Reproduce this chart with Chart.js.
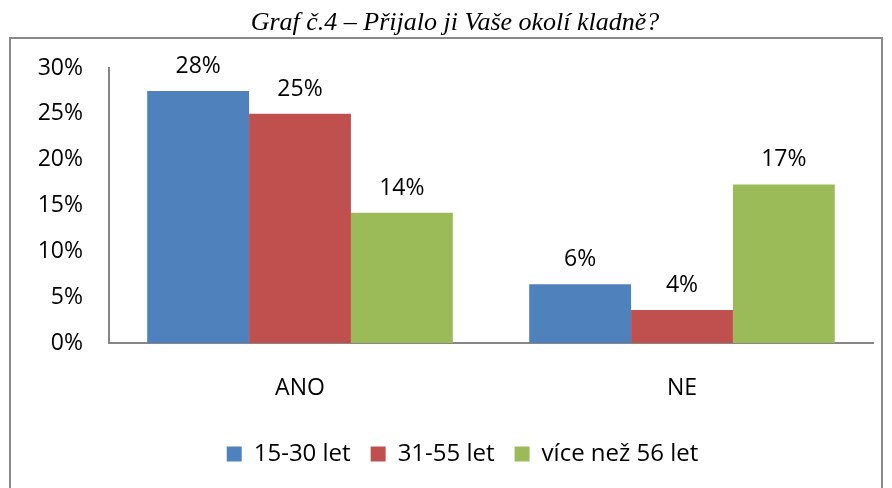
<!DOCTYPE html>
<html>
<head>
<meta charset="utf-8">
<script src="https://cdn.jsdelivr.net/npm/chart.js@4.4.0/dist/chart.umd.min.js"></script>
<style>
  html, body { margin: 0; padding: 0; background: #fff; }
  #wrap { width: 892px; height: 488px; }
</style>
</head>
<body>
<div id="wrap"><canvas id="myChart" width="892" height="488"></canvas></div>
<script>
// values (percent)
const titleText = 'Graf č.4 – Přijalo ji Vaše okolí kladně?';
const categories = ['ANO', 'NE'];
const seriesNames = ['15-30 let', '31-55 let', 'více než 56 let'];
const youngValues = [27.5, 6.4];
const middleValues = [25.0, 3.6];
const olderValues = [14.2, 17.3];
const seriesColors = ['#4F81BD', '#C0504D', '#9BBB59'];
const yMax = 30;
const yStep = 5;

const fontFamily = 'Open Sans';
const fontSize = 23;

// frame + title outside the plot
const framePlugin = {
  id: 'frame',
  beforeDraw(chart) {
    const { ctx } = chart;
    ctx.save();
    ctx.fillStyle = '#fff';
    ctx.fillRect(0, 0, chart.width, chart.height);
    ctx.strokeStyle = '#898989';
    ctx.lineWidth = 2;
    ctx.strokeRect(10, 38, 872, 470);
    ctx.fillStyle = '#000';
    ctx.font = 'italic 26px "Liberation Serif"';
    ctx.textAlign = 'center';
    ctx.textBaseline = 'alphabetic';
    ctx.fillText(titleText, 455, 30);
    ctx.restore();
  },
  // legend sits a bit right of the canvas centre in the reference
  afterLayout(chart) {
    chart.legend.left += 20;
    chart.legend.right += 20;
  },
};

// rounded value labels above the bars
const valueLabels = {
  id: 'valueLabels',
  afterDatasetsDraw(chart) {
    const { ctx } = chart;
    ctx.save();
    ctx.font = `${fontSize}px "${fontFamily}"`;
    ctx.fillStyle = '#000';
    ctx.textAlign = 'center';
    ctx.textBaseline = 'alphabetic';
    chart.data.datasets.forEach((ds, i) => {
      chart.getDatasetMeta(i).data.forEach((bar, j) => {
        ctx.fillText(`${Math.round(ds.data[j])}%`, bar.x, bar.y - 18);
      });
    });
    ctx.restore();
  },
};

const ctx = document.getElementById('myChart');
// eslint-disable-next-line no-new
new Chart(ctx, {
  type: 'bar',
  data: {
    labels: categories,
    datasets: [
      { label: seriesNames[0], data: youngValues, backgroundColor: seriesColors[0] },
      { label: seriesNames[1], data: middleValues, backgroundColor: seriesColors[1] },
      { label: seriesNames[2], data: olderValues, backgroundColor: seriesColors[2] },
    ],
  },
  options: {
    responsive: false,
    animation: false,
    layout: { padding: { left: 12, right: 19, top: 68, bottom: 12 } },
    datasets: {
      bar: { categoryPercentage: 0.8, barPercentage: 1.0 },
    },
    plugins: {
      title: { display: false },
      tooltip: { enabled: false },
      legend: {
        position: 'bottom',
        labels: {
          boxWidth: 15,
          boxHeight: 15,
          padding: 20,
          color: '#000',
          font: { family: fontFamily, size: 24 },
        },
      },
    },
    scales: {
      x: {
        grid: { display: false, drawTicks: false },
        border: { display: true, color: '#868686', width: 2 },
        ticks: { color: '#000', padding: 32, font: { family: fontFamily, size: fontSize } },
        afterFit(scale) { scale.height = 79; },
      },
      y: {
        min: 0,
        max: yMax,
        grid: { display: false, drawTicks: false },
        border: { display: true, color: '#868686', width: 2 },
        ticks: {
          stepSize: yStep,
          color: '#000',
          padding: 26,
          font: { family: fontFamily, size: fontSize },
          callback: (v) => `${v}%`,
        },
        afterFit(scale) { scale.width = 97; },
      },
    },
  },
  plugins: [framePlugin, valueLabels],
});
</script>
</body>
</html>
